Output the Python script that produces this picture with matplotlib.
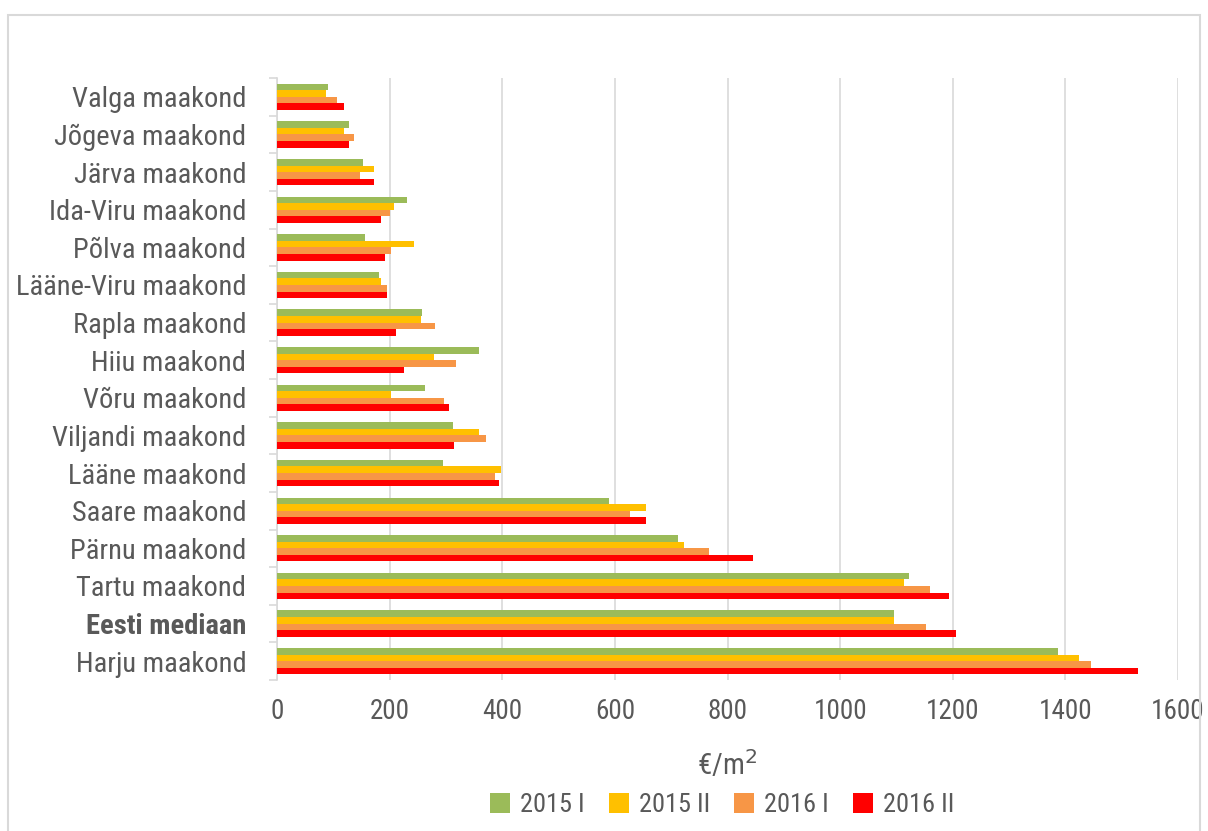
import matplotlib
matplotlib.use("Agg")
import matplotlib.pyplot as plt
import numpy as np
from matplotlib.patches import Rectangle

plt.rcParams['font.family'] = ['Roboto Condensed', 'Liberation Sans Narrow', 'Roboto', 'DejaVu Sans']

# categories top to bottom
counties = ["Valga maakond", "Jõgeva maakond", "Järva maakond", "Ida-Viru maakond",
            "Põlva maakond", "Lääne-Viru maakond", "Rapla maakond", "Hiiu maakond",
            "Võru maakond", "Viljandi maakond", "Lääne maakond", "Saare maakond",
            "Pärnu maakond", "Tartu maakond", "Eesti mediaan", "Harju maakond"]

s2015_1 = [91, 128, 152, 230, 156, 182, 258, 358, 262, 312, 294, 590, 712, 1122, 1095, 1386]
s2015_2 = [87, 119, 172, 208, 244, 185, 255, 278, 202, 358, 397, 656, 722, 1113, 1095, 1425]
s2016_1 = [107, 137, 148, 201, 203, 196, 280, 317, 296, 372, 388, 627, 768, 1159, 1152, 1446]
s2016_2 = [119, 128, 172, 185, 192, 196, 212, 226, 306, 315, 395, 656, 846, 1194, 1205, 1529]

series = [("2015 I", s2015_1, "#9BBB59"),
          ("2015 II", s2015_2, "#FFC000"),
          ("2016 I", s2016_1, "#F79646"),
          ("2016 II", s2016_2, "#FF0000")]

text_col = "#595959"
grid_col = "#d9d9d9"

fig = plt.figure(figsize=(12.08, 8.31), dpi=100)
ax = fig.add_axes([0.2293, 0.1817, 0.7459, 0.7244])

y = np.arange(len(counties))
h = 0.175
for i, (name, vals, col) in enumerate(series):
    ax.barh(y + (i - 1.5) * h, vals, height=h, color=col, label=name, zorder=3)

ax.set_xlim(0, 1600)
ax.set_ylim(len(counties) - 0.5, -0.5)
ax.set_xticks(np.arange(0, 1601, 200))
ax.grid(axis='x', color=grid_col, linewidth=1.2, zorder=0)

ax.set_yticks(y)
ax.set_yticklabels(counties)
ax.set_yticks(np.arange(-0.5, len(counties), 1), minor=True)
ax.tick_params(axis='y', which='major', length=0, pad=22, labelsize=20.5, labelcolor=text_col)
ax.tick_params(axis='y', which='minor', length=6, color=grid_col, width=1.2)
ax.tick_params(axis='x', length=0, pad=13, labelsize=19.5, labelcolor=text_col)
for lbl in ax.get_yticklabels():
    if lbl.get_text() == "Eesti mediaan":
        lbl.set_fontweight('bold')

for side in ['top', 'right', 'bottom']:
    ax.spines[side].set_visible(False)
ax.spines['left'].set_color(grid_col)
ax.spines['left'].set_linewidth(1.2)

ax.set_xlabel("€/m$^2$", fontsize=21, color=text_col, labelpad=17)

leg = fig.legend(loc='center', bbox_to_anchor=(0.598, 0.031), ncol=4, frameon=False,
                 fontsize=19, handlelength=0.75, handleheight=0.75, handletextpad=0.4,
                 columnspacing=0.9)
for t in leg.get_texts():
    t.set_color(text_col)

fig.patches.append(Rectangle((8 / 1208, -0.05), 1192 / 1208, 1.05 - 15 / 831,
                             transform=fig.transFigure, fill=False,
                             edgecolor=grid_col, linewidth=1.5))

fig.savefig("out.png", dpi=100)
